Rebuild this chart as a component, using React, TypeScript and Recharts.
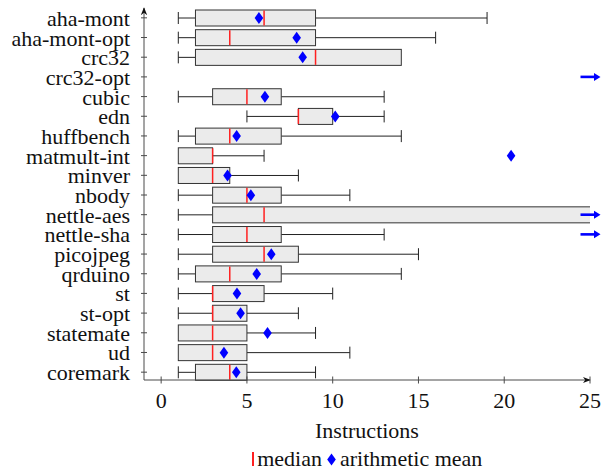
import { Bar, ComposedChart, Scatter, XAxis, YAxis } from "recharts";

const benchmarks = [
  "aha-mont",
  "aha-mont-opt",
  "crc32",
  "crc32-opt",
  "cubic",
  "edn",
  "huffbench",
  "matmult-int",
  "minver",
  "nbody",
  "nettle-aes",
  "nettle-sha",
  "picojpeg",
  "qrduino",
  "st",
  "st-opt",
  "statemate",
  "ud",
  "coremark",
];

// five-number summaries + mean (crc32-opt / nettle-aes run past the axis)
const whiskerLow = [1, 1, 1, 30, 1, 5, 1, 1, 1, 1, 1, 1, 1, 1, 1, 1, 1, 1, 1];
const quartile1 = [2, 2, 2, 34, 3, 8, 2, 1, 1, 3, 3, 3, 3, 2, 3, 3, 1, 1, 2];
const medians = [6, 4, 9, 38, 5, 8, 4, 3, 3, 5, 6, 5, 6, 4, 3, 3, 3, 3, 4];
const quartile3 = [9, 9, 14, 44, 7, 10, 7, 3, 4, 7, 31, 7, 8, 7, 6, 5, 5, 5, 5];
const whiskerHigh = [19, 16, 14, 52, 13, 13, 14, 6, 8, 11, 42, 13, 15, 14, 10, 8, 9, 11, 9];
const means = [
  5.7, 7.9, 8.25, 40.5, 6.05, 10.15, 4.4, 20.4, 3.87, 5.23, 29.6, 27.3, 6.42, 5.57,
  4.42, 4.63, 6.2, 3.66, 4.38,
];

const xTicks = [0, 5, 10, 15, 20, 25];
const X_MIN = -1;
const X_MAX = 25;

const FONT = '"Liberation Serif", "Times New Roman", serif';
const AXIS = "#4a4a4a";

const data = benchmarks.map((name, i) => ({
  name,
  min: whiskerLow[i],
  q1: quartile1[i],
  median: medians[i],
  q3: quartile3[i],
  max: whiskerHigh[i],
  mean: means[i],
  // mean beyond the axis is marked with an arrow at the edge
  edge: means[i] > X_MAX ? X_MAX : null,
}));

function BoxShape(props: any) {
  const { x, y, width, height, payload } = props;
  const d = payload;
  const k = width / (d.max - d.min);
  const px = (v: number) => x + (v - d.min) * k;
  const cy = y + height / 2;
  const top = y;
  const bot = y + height;
  const mx = px(d.mean);
  return (
    <g>
      {d.min < d.q1 && (
        <>
          <line x1={px(d.min)} x2={px(d.q1)} y1={cy} y2={cy} stroke="#222" />
          <line x1={px(d.min)} x2={px(d.min)} y1={cy - 6} y2={cy + 6} stroke="#222" />
        </>
      )}
      {d.max > d.q3 && (
        <>
          <line x1={px(d.q3)} x2={px(d.max)} y1={cy} y2={cy} stroke="#222" />
          <line x1={px(d.max)} x2={px(d.max)} y1={cy - 6} y2={cy + 6} stroke="#222" />
        </>
      )}
      <rect
        x={px(d.q1)}
        y={top}
        width={px(d.q3) - px(d.q1)}
        height={height}
        fill="#ebebeb"
        stroke="#333"
      />
      <line
        x1={px(d.median)}
        x2={px(d.median)}
        y1={top + 0.5}
        y2={bot - 0.5}
        stroke="#ff2020"
        strokeWidth={1.5}
      />
      <path
        d={`M${mx},${cy - 6} L${mx + 4.3},${cy} L${mx},${cy + 6} L${mx - 4.3},${cy} Z`}
        fill="#0000ff"
      />
    </g>
  );
}

function EdgeArrow(props: any) {
  const { cx, cy, payload } = props;
  if (payload.edge == null || !Number.isFinite(cx)) return <g />;
  return (
    <g>
      <line x1={cx - 9.5} x2={cx + 6} y1={cy} y2={cy} stroke="#0000ff" strokeWidth={2.6} />
      <path d={`M${cx + 4},${cy - 4} L${cx + 10.5},${cy} L${cx + 4},${cy + 4} Z`} fill="#0000ff" />
    </g>
  );
}

function CatTick(props: any) {
  const { x, y, payload } = props;
  return (
    <g>
      <line x1={x - 3} x2={x + 3} y1={y} y2={y} stroke={AXIS} />
      <text x={x - 14} y={y} dy={8} textAnchor="end" fontSize={22} fontFamily={FONT} fill="#111">
        {payload.value}
      </text>
    </g>
  );
}

function NumTick(props: any) {
  const { x, y, payload } = props;
  return (
    <g>
      <line x1={x} x2={x} y1={y - 3.5} y2={y + 3.5} stroke={AXIS} />
      <text x={x} y={y + 28} textAnchor="middle" fontSize={22} fontFamily={FONT} fill="#111">
        {payload.value}
      </text>
    </g>
  );
}

export default function App() {
  return (
    <div style={{ position: "absolute", left: 0, top: 0, width: 601, height: 474, background: "#fff" }}>
      <ComposedChart
        width={601}
        height={474}
        data={data}
        layout="vertical"
        margin={{ top: 8, right: 11, bottom: 0, left: 0 }}
      >
        <defs>
          <marker
            id="axis-arrow"
            viewBox="0 0 10 10"
            refX="9"
            refY="5"
            markerWidth="8"
            markerHeight="8"
            markerUnits="userSpaceOnUse"
            orient="auto-start-reverse"
          >
            <path d="M0,1 L10,5 L0,9 L3,5 Z" fill="#111" />
          </marker>
        </defs>
        <XAxis
          type="number"
          domain={[X_MIN, X_MAX]}
          allowDataOverflow
          ticks={xTicks}
          height={94}
          tickSize={0}
          tickMargin={0}
          tickLine={false}
          tick={<NumTick />}
          axisLine={{ stroke: AXIS, markerEnd: "url(#axis-arrow)" }}
          label={{
            value: "Instructions",
            position: "insideBottom",
            offset: 36,
            fontSize: 22,
            fontFamily: FONT,
            fill: "#111",
          }}
        />
        <XAxis xAxisId="edge" type="number" dataKey="edge" domain={[X_MIN, X_MAX]} hide />
        <YAxis
          type="category"
          dataKey="name"
          width={144}
          interval={0}
          tickSize={0}
          tickMargin={0}
          tickLine={false}
          tick={<CatTick />}
          padding={{ top: 0, bottom: -2 }}
          axisLine={{ stroke: AXIS, markerStart: "url(#axis-arrow)" }}
        />
        <Bar
          dataKey={(d: any) => [d.min, d.max]}
          barSize={16}
          shape={<BoxShape />}
          isAnimationActive={false}
        />
        <Scatter xAxisId="edge" shape={<EdgeArrow />} isAnimationActive={false} />
      </ComposedChart>
      <div
        style={{
          position: "absolute",
          left: 144,
          width: 446,
          top: 448,
          height: 22,
          lineHeight: "22px",
          display: "flex",
          justifyContent: "center",
          alignItems: "center",
          fontFamily: FONT,
          fontSize: 22,
          color: "#111",
        }}
      >
        <span style={{ display: "inline-block", width: 2.5, height: 14, background: "#ff2020", marginRight: 3 }} />
        <span>median</span>
        <svg width={9} height={13} style={{ margin: "0 4px 0 5px" }}>
          <path d="M4.5,0.5 L8.8,6.5 L4.5,12.5 L0.2,6.5 Z" fill="#0000ff" />
        </svg>
        <span>arithmetic mean</span>
      </div>
    </div>
  );
}
